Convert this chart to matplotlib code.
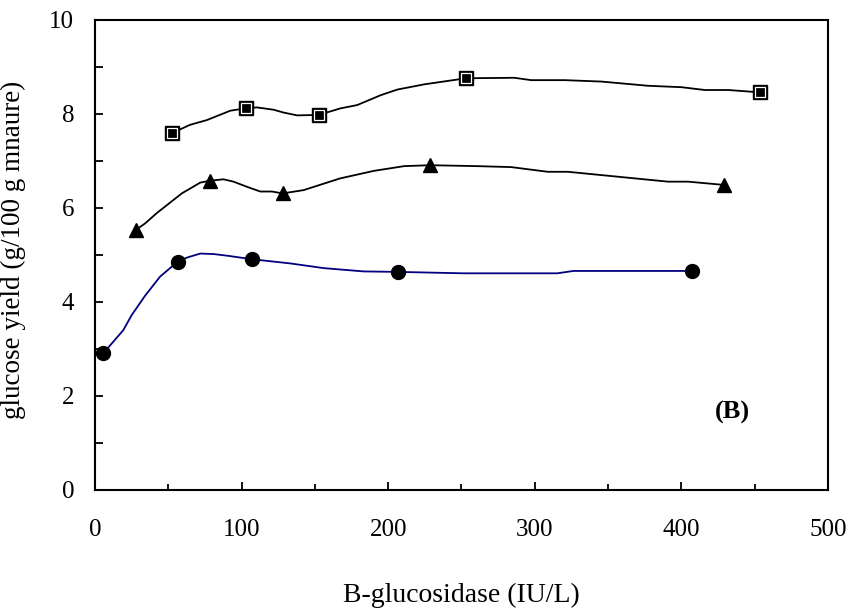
import numpy as np
import matplotlib.pyplot as plt
from matplotlib.ticker import MultipleLocator

plt.rcParams['font.family'] = ['Liberation Serif', 'DejaVu Serif']

# marker points
circ_x = [5.7, 56.4, 106.9, 206.5, 407.2]
circ_y = [2.91, 4.86, 4.91, 4.64, 4.66]
tri_x = [27.8, 78.4, 128.0, 228.5, 429.3]
tri_y = [5.53, 6.58, 6.31, 6.91, 6.49]
sq_x = [52.3, 102.8, 152.6, 253.1, 453.6]
sq_y = [7.59, 8.12, 7.98, 8.76, 8.46]

# smoothed lines
circ_lx = [5.7, 19.3, 25.0, 34.1, 44.4, 51.2, 56.4, 63.3, 71.8, 80.9, 91.3, 106.9,
           133.3, 156.1, 183.3, 206.5, 251.3, 315.3, 326.3, 407.2]
circ_ly = [2.91, 3.40, 3.72, 4.13, 4.54, 4.72, 4.86, 4.95, 5.03, 5.02, 4.98, 4.91,
           4.82, 4.72, 4.65, 4.64, 4.61, 4.61, 4.66, 4.66]
tri_lx = [27.8, 34.1, 42.1, 59.2, 71.8, 78.4, 87.7, 94.5, 103.7, 112.8, 120.8, 128.0,
          142.3, 167.3, 190.3, 210.8, 228.5, 261.0, 283.8, 308.9, 322.6, 390.9,
          404.6, 429.3]
tri_ly = [5.53, 5.67, 5.89, 6.31, 6.54, 6.58, 6.61, 6.56, 6.45, 6.35, 6.35, 6.31,
          6.38, 6.63, 6.79, 6.89, 6.91, 6.89, 6.87, 6.77, 6.77, 6.56, 6.56, 6.49]
sq_lx = [52.3, 64.9, 76.3, 92.3, 102.8, 110.5, 121.9, 128.7, 137.9, 152.6, 167.5,
         178.9, 194.9, 206.3, 224.5, 253.1, 286.1, 297.5, 320.3, 345.3, 377.3,
         400.1, 416.0, 432.0, 453.6]
sq_ly = [7.59, 7.77, 7.87, 8.07, 8.12, 8.14, 8.09, 8.03, 7.97, 7.98, 8.12, 8.19,
         8.40, 8.52, 8.63, 8.76, 8.77, 8.72, 8.72, 8.69, 8.60, 8.57, 8.51, 8.51,
         8.46]

fig = plt.figure(figsize=(8.52, 6.13), dpi=100)
ax = fig.add_axes([0.1115, 0.2007, 0.8603, 0.7667])

ax.plot(circ_lx, circ_ly, color='#000080', lw=1.3)
ax.plot(circ_x, circ_y, 'o', color='black', ms=10, ls='none')

ax.plot(tri_lx, tri_ly, color='black', lw=1.3)
ax.plot(tri_x, tri_y, '^', color='black', ms=10.5, ls='none')

ax.plot(sq_lx, sq_ly, color='black', lw=1.3)
ax.plot(sq_x, sq_y, 's', mfc='black', mec='black', mew=1.0, ms=9.5, ls='none')
ax.plot(sq_x, sq_y, 's', mfc='none', mec='white', mew=0.9, ms=7, ls='none')

ax.text(435, 1.64, '(B)', fontsize=19, fontweight='bold', ha='center', va='center')

ax.set_xlim(0, 500)
ax.set_ylim(0, 10)
ax.xaxis.set_major_locator(MultipleLocator(100))
ax.xaxis.set_minor_locator(MultipleLocator(50))
ax.yaxis.set_major_locator(MultipleLocator(2))
ax.yaxis.set_minor_locator(MultipleLocator(1))
ax.tick_params(which='both', direction='in', width=1.3, labelsize=18)
ax.tick_params(axis='x', which='major', length=6, pad=21)
ax.tick_params(axis='x', which='minor', length=4.5)
ax.tick_params(axis='y', which='both', length=6, pad=15)
for s in ax.spines.values():
    s.set_linewidth(1.5)

ax.set_xlabel('B-glucosidase (IU/L)', fontsize=20, labelpad=30)
ax.set_ylabel('glucose yield (g/100 g mnaure)', fontsize=19.5)
ax.yaxis.set_label_coords(-0.094, 0.51)

fig.savefig('out.png', dpi=100)
